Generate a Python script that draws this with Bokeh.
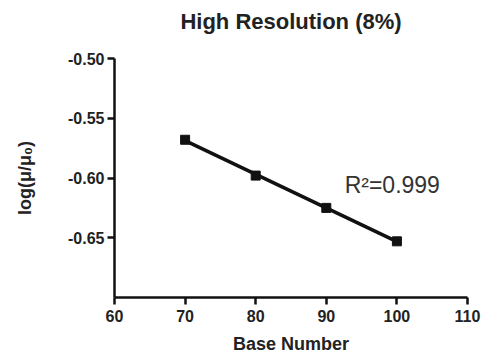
import numpy as np
from bokeh.plotting import figure
from bokeh.models import FixedTicker, Range1d, Label, Title
from bokeh.embed import file_html
from bokeh.resources import INLINE

base_number = [70, 80, 90, 100]
log_mu = [-0.568, -0.598, -0.625, -0.653]
x_ticks = [60, 70, 80, 90, 100, 110]
y_ticks = [-0.65, -0.60, -0.55, -0.50]
y_tick_labels = ["-0.65", "-0.60", "-0.55", "-0.50"]
title_text = "High Resolution (8%)"
r2_text = "R²=0.999"

FONT = "Liberation Sans"

p = figure(width=483, height=358, output_backend="svg", toolbar_location=None,
           title=None,
           x_range=Range1d(60, 110), y_range=Range1d(-0.70, -0.50),
           min_border_left=114, min_border_right=16, min_border_top=58, min_border_bottom=61)
p.outline_line_color = None
p.xgrid.visible = False
p.ygrid.visible = False
p.background_fill_color = "white"
p.border_fill_color = "white"

# spacer between frame and title, then the title itself
p.add_layout(Title(text=" ", text_font_size="21px", standoff=0), "above")
p.add_layout(Title(text=title_text, align="center", text_font=FONT, text_font_style="bold",
                   text_font_size="22px", text_color="#222222", standoff=0), "above")

for ax in (p.xaxis[0], p.yaxis[0]):
    ax.axis_line_width = 2.5
    ax.axis_line_color = "#111111"
    ax.major_tick_line_width = 2.5
    ax.major_tick_line_color = "#111111"
    ax.major_tick_out = 7
    ax.major_tick_in = 0
    ax.minor_tick_line_color = None
    ax.major_label_text_font = FONT
    ax.major_label_text_font_style = "bold"
    ax.major_label_text_font_size = "16px"
    ax.major_label_text_color = "#222222"
    ax.axis_label_text_font = FONT
    ax.axis_label_text_font_style = "bold"
    ax.axis_label_text_font_size = "18px"
    ax.axis_label_text_color = "#222222"

p.xaxis.ticker = FixedTicker(ticks=x_ticks)
p.xaxis.axis_label = "Base Number"
p.xaxis.axis_label_standoff = 9
p.xaxis.major_label_standoff = 5

p.yaxis.ticker = FixedTicker(ticks=y_ticks)
p.yaxis.major_label_overrides = {t: l for t, l in zip(y_ticks, y_tick_labels)}
p.yaxis.axis_label = "log(μ/μ₀)"
p.yaxis.axis_label_standoff = 30
p.yaxis.major_label_standoff = 3

# fit line
slope, intercept = np.polyfit(base_number, log_mu, 1)
fx = [base_number[0], base_number[-1]]
fy = [slope * v + intercept for v in fx]
p.line(fx, fy, line_width=3.5, line_color="#111111")
p.scatter(base_number, log_mu, marker="square", size=9, fill_color="#111111", line_color="#111111")

p.add_layout(Label(x=92.6, y=-0.6055, text=r2_text, text_font=FONT, text_font_size="23px",
                   text_color="#333333", text_baseline="alphabetic"))

open("out.html", "w").write(file_html(p, INLINE))
